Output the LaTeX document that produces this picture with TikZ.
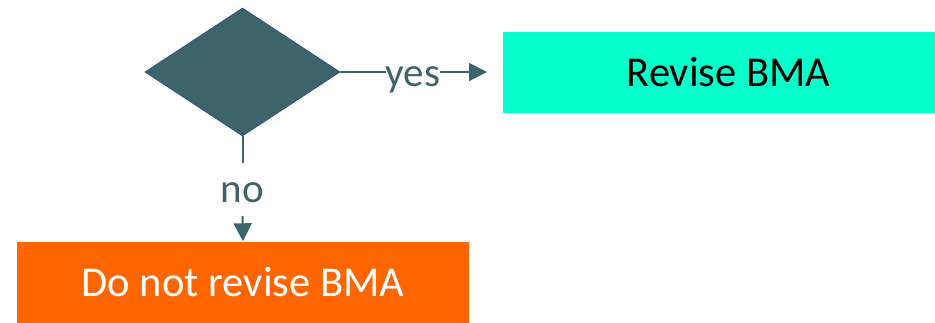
\documentclass[tikz,border=0pt]{standalone}
\usepackage{fontspec}
\setmainfont{Carlito}
\usetikzlibrary{shapes.geometric,arrows.meta}
\definecolor{slate}{HTML}{3D6468}
\definecolor{edgeblue}{HTML}{2F4F8F}
\definecolor{aqua}{HTML}{07FFCC}
\definecolor{hotorange}{HTML}{FF6600}
\tikzset{
  decision/.style={diamond, draw=edgeblue, line width=0.8pt, fill=slate, inner sep=0pt, aspect=1.53, minimum width=195pt, minimum height=128pt},
  outcome/.style={rectangle, inner sep=0pt, font=\fontsize{42.5}{46}\selectfont},
  flow/.style={draw=slate, line width=2pt},
  flowtip/.style={flow, -{Triangle[length=18pt,width=18pt]}},
  branch/.style={text=slate, font=\fontsize{41}{44}\selectfont, inner sep=0pt}
}
\begin{document}
\begin{tikzpicture}[x=1pt,y=-1pt]
  \useasboundingbox (0,0) rectangle (935,322);
  \node[decision] (q) at (242.5,72) {};
  % the right-hand box runs past the page edge
  \node[outcome, fill=aqua, minimum width=451pt, minimum height=81pt, text=black] (rev) at (728.5,72.5) {Revise BMA};
  \node[outcome, fill=hotorange, minimum width=452pt, minimum height=81pt, text=white] (keep) at (243,282) {Do not revise BMA};
  % yes branch
  \node[branch, anchor=base] (yes) at (413,86) {yes};
  \coordinate (yestip) at (487,72);
  \draw[flow] (q.east) -- (yes.west |- q.east);
  \draw[flowtip] (yes.east |- q.east) -- (yestip);
  % no branch
  \node[branch, anchor=base] (no) at (242.5,202) {no};
  \coordinate (nostop) at (242.5,163);
  \coordinate (nostart) at (242.5,216);
  \draw[flow] (q.south) -- (nostop);
  \draw[flowtip] (nostart) -- (keep.north);
\end{tikzpicture}
\end{document}
